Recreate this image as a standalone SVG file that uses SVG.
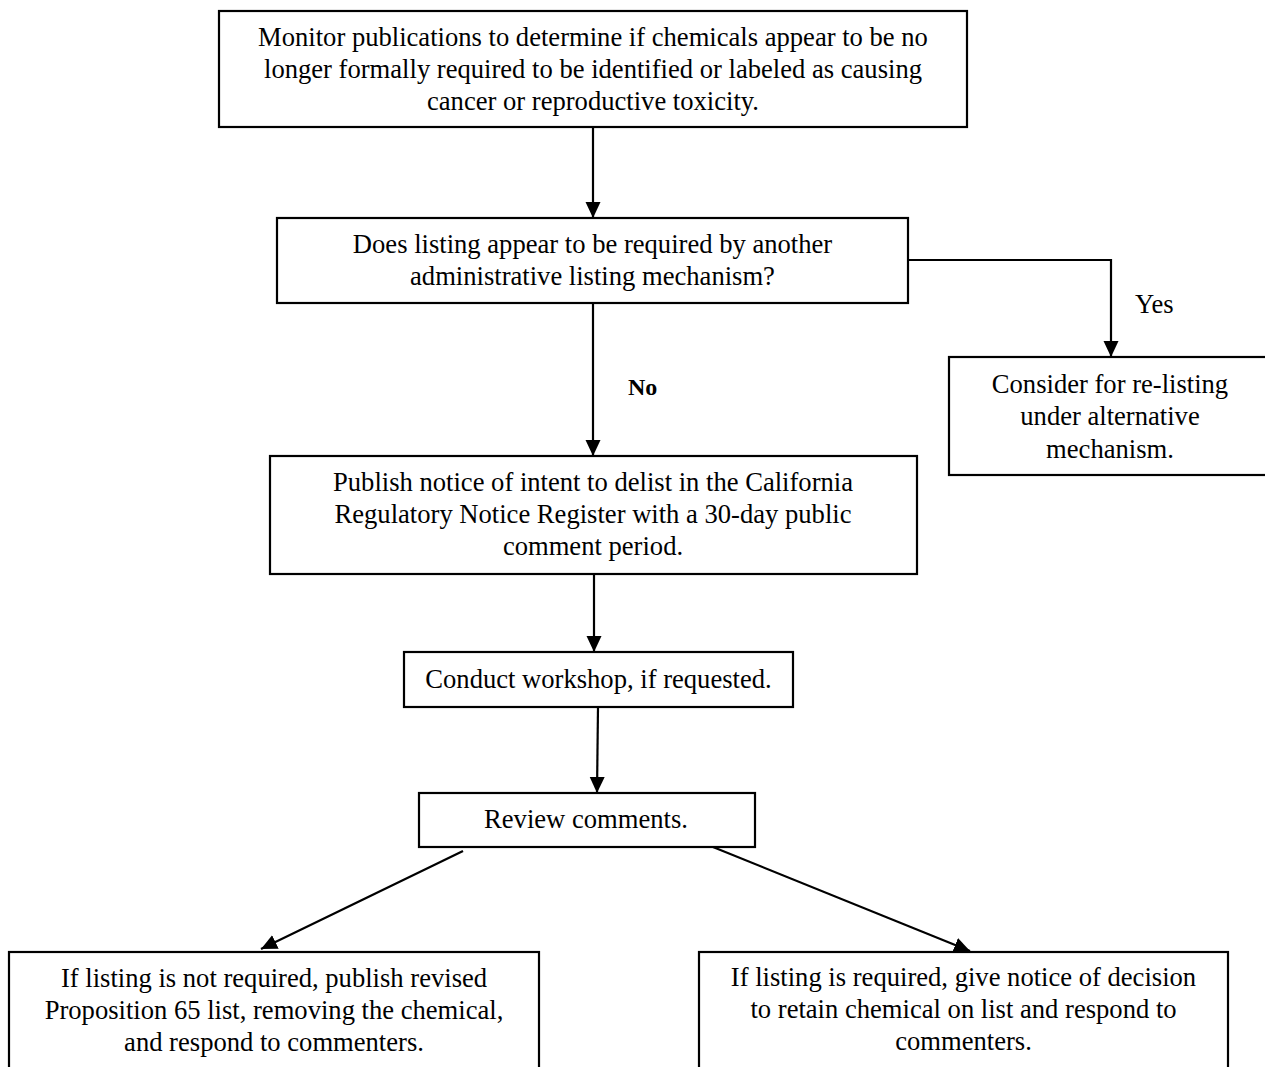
<svg xmlns="http://www.w3.org/2000/svg" width="1265" height="1067" viewBox="0 0 1265 1067">
<style>
.box{fill:#fff;stroke:#000;stroke-width:2.2}
.t{font-family:"Liberation Serif","Times New Roman",serif;font-size:26.6px;fill:#000;text-anchor:middle}
.b{font-weight:bold;font-size:24px;text-anchor:start}
.l{text-anchor:start}
.c{fill:none;stroke:#000;stroke-width:2.2}
</style>
<defs>
<marker id="ah" markerUnits="userSpaceOnUse" markerWidth="17" markerHeight="16" refX="16" refY="7.5" orient="auto">
<path d="M0,0 L16,7.5 L0,15 z" fill="#000"/>
</marker>
</defs>
<rect width="1265" height="1067" fill="#fff"/>
<g id="connectors">
<line class="c" x1="593" y1="128" x2="593" y2="218" marker-end="url(#ah)"/>
<polyline class="c" points="908,260 1111,260 1111,357" marker-end="url(#ah)"/>
<line class="c" x1="593" y1="303" x2="593" y2="456" marker-end="url(#ah)"/>
<line class="c" x1="594" y1="574" x2="594" y2="652" marker-end="url(#ah)"/>
<line class="c" x1="598" y1="707" x2="597" y2="793" marker-end="url(#ah)"/>
<line class="c" x1="463" y1="851" x2="261" y2="949" marker-end="url(#ah)"/>
<line class="c" x1="708" y1="845" x2="970" y2="951" marker-end="url(#ah)"/>
<text class="t b" x="628" y="395">No</text>
<text class="t l" x="1135" y="313">Yes</text>
</g>
<g id="monitor">
<rect class="box" x="219" y="11" width="748" height="116"/>
<text class="t" x="593" y="46">Monitor publications to determine if chemicals appear to be no</text>
<text class="t" x="593" y="78">longer formally required to be identified or labeled as causing</text>
<text class="t" x="593" y="110">cancer or reproductive toxicity.</text>
</g>
<g id="question">
<rect class="box" x="277" y="218" width="631" height="85"/>
<text class="t" x="592.5" y="253">Does listing appear to be required by another</text>
<text class="t" x="592.5" y="285">administrative listing mechanism?</text>
</g>
<g id="consider">
<rect class="box" x="949" y="357" width="330" height="118"/>
<text class="t" x="1110" y="393">Consider for re-listing</text>
<text class="t" x="1110" y="425">under alternative</text>
<text class="t" x="1110" y="458">mechanism.</text>
</g>
<g id="publish">
<rect class="box" x="270" y="456" width="647" height="118"/>
<text class="t" x="593" y="491">Publish notice of intent to delist in the California</text>
<text class="t" x="593" y="523">Regulatory Notice Register with a 30-day public</text>
<text class="t" x="593" y="555">comment period.</text>
</g>
<g id="workshop">
<rect class="box" x="404" y="652" width="389" height="55"/>
<text class="t" x="598.5" y="688">Conduct workshop, if requested.</text>
</g>
<g id="review">
<rect class="box" x="419" y="793" width="336" height="54"/>
<text class="t" x="586" y="828">Review comments.</text>
</g>
<g id="delist">
<rect class="box" x="9" y="952" width="530" height="130"/>
<text class="t" x="274" y="987">If listing is not required, publish revised</text>
<text class="t" x="274" y="1019">Proposition 65 list, removing the chemical,</text>
<text class="t" x="274" y="1051">and respond to commenters.</text>
</g>
<g id="retain">
<rect class="box" x="699" y="952" width="529" height="130"/>
<text class="t" x="963.5" y="986">If listing is required, give notice of decision</text>
<text class="t" x="963.5" y="1018">to retain chemical on list and respond to</text>
<text class="t" x="963.5" y="1050">commenters.</text>
</g>
</svg>
